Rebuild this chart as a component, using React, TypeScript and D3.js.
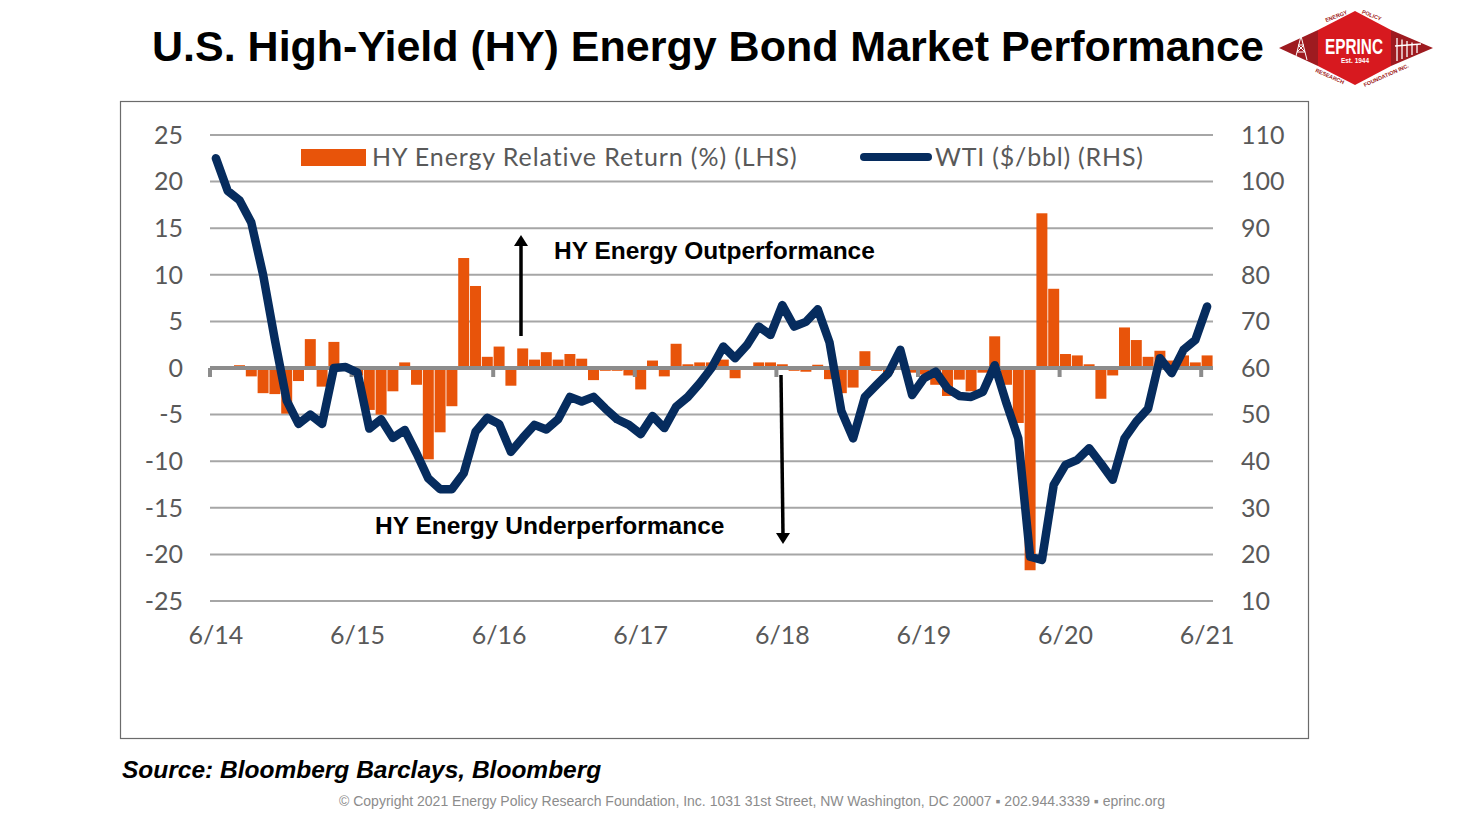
import React from "react";
import * as d3 from "d3";

// ---------- DATA ----------
const startMonth = new Date(2014, 5, 1);
const endMonth = new Date(2021, 6, 1);
const months = d3.timeMonth.range(startMonth, endMonth); // 85 months, 6/14 .. 6/21

const xTickLabels = ["6/14", "6/15", "6/16", "6/17", "6/18", "6/19", "6/20", "6/21"];
const leftTicks = [25, 20, 15, 10, 5, 0, -5, -10, -15, -20, -25];
const rightTicks = [110, 100, 90, 80, 70, 60, 50, 40, 30, 20, 10];

// HY Energy relative return (%) (LHS), monthly
const hyRelReturn = [
  0.1, 0.0, 0.3, -0.9, -2.7, -2.8, -4.9, -1.4, 3.1, -2.0, 2.8, 0.2,
  -0.8, -4.5, -5.0, -2.5, 0.6, -1.8, -9.8, -6.9, -4.1, 11.8, 8.8, 1.2,
  2.3, -1.9, 2.1, 0.9, 1.7, 0.9, 1.5, 1.0, -1.3, -0.3, -0.3, -0.8,
  -2.3, 0.8, -0.9, 2.6, 0.4, 0.6, 0.6, 0.9, -1.1, 0.1, 0.6, 0.6,
  0.4, -0.3, -0.4, 0.35, -1.2, -2.7, -2.1, 1.8, -0.3, -0.5, -0.2, -0.5,
  -0.7, -1.8, -3.0, -1.25, -2.5, -0.5, 3.4, -1.8, -5.9, -21.7, 16.6, 8.5,
  1.5, 1.35, 0.4, -3.3, -0.8, 4.35, 3.0, 1.2, 1.85, 0.8, 1.35, 0.6,
  1.35,
];

// WTI ($/bbl) (RHS), monthly
const wti = [
  105, 98, 96, 91.2, 80, 66, 53, 48, 50, 48, 60, 60.2,
  59, 47, 49, 45, 46.7, 41.7, 36.3, 34, 34, 37.4, 46.3, 49.3,
  48, 42, 45, 47.8, 46.8, 49, 53.8, 52.8, 53.8, 51.3, 49, 47.8,
  45.8, 49.7, 47.1, 51.7, 53.8, 56.7, 60, 64.6, 62.1, 64.9, 68.9, 67.1,
  73.5, 68.9, 69.9, 72.6, 65.5, 50.8, 44.9, 53.8, 56.4, 58.9, 63.9, 54.2,
  57.8, 59.2, 55.6, 54, 53.8, 54.9, 60.6, 52.4, 44.9, 19.5, 18.8, 34.9,
  39.2, 40.3, 42.8, 39.5, 36, 44.9, 48.5, 51.3, 62.1, 58.9, 63.9, 66,
  73.2,
];

const seriesNames = ["HY Energy Relative Return (%) (LHS)", "WTI ($/bbl) (RHS)"];

// ---------- STYLE ----------
const ORANGE = "#E8540A";
const NAVY = "#062C5E";
const GRID = "#a6a6a6";
const AXIS = "#8c8c8c";
const LABEL = "#595959";
const LABEL_FONT = "Lato, 'Open Sans', sans-serif";
const ARIAL = "'Liberation Sans', Arial, sans-serif";

export default function App() {
  const W = 1473;
  const H = 825;
  const plotLeft = 210;
  const plotRight = 1213;
  const plotTop = 135;
  const plotBottom = 601;

  const idx = months.map((_, i) => i);
  const x = d3
    .scaleBand<number>()
    .domain(idx)
    .range([plotLeft, plotRight])
    .paddingInner(0.07)
    .paddingOuter(0.035);
  const step = x.step();
  const xCenter = (i: number) => (x(i) as number) + x.bandwidth() / 2;
  const xBoundary = (i: number) => plotLeft + step * i;

  const yL = d3.scaleLinear().domain([-25, 25]).range([plotBottom, plotTop]);
  const yR = d3.scaleLinear().domain([10, 110]).range([plotBottom, plotTop]);

  const line = d3
    .line<number>()
    .x((_, i) => xCenter(i))
    .y((d) => yR(d));

  const yearTickIdx = xTickLabels.map((_, j) => j * 12);

  // Logo anchor
  const lx = 1355;
  const ly = 48;

  return (
    <svg
      width={W}
      height={H}
      viewBox={`0 0 ${W} ${H}`}
      style={{ position: "absolute", left: 0, top: 0, display: "block", background: "#fff" }}
    >
      <rect x={0} y={0} width={W} height={H} fill="#fff" />

      {/* Title */}
      <text x={152} y={61} fontFamily={ARIAL} fontWeight={700} fontSize={43} fill="#000">
        U.S. High-Yield (HY) Energy Bond Market Performance
      </text>

      {/* Logo */}
      <g>
        <polygon
          points={`${lx - 76},${ly} ${lx - 37},${ly - 18} ${lx - 37},${ly + 18}`}
          fill="#9E1B20"
        />
        <polygon
          points={`${lx + 78},${ly} ${lx + 36},${ly - 18} ${lx + 36},${ly + 18}`}
          fill="#9E1B20"
        />
        <polygon
          points={`${lx - 37},${ly - 18} ${lx},${ly - 37} ${lx + 36},${ly - 18} ${lx + 36},${ly + 18} ${lx},${ly + 37} ${lx - 37},${ly + 18}`}
          fill="#D7191F"
        />
        <g stroke="#fff" strokeWidth={1} fill="none">
          <path d={`M${lx - 60},${ly + 12} L${lx - 54},${ly - 12} L${lx - 48},${ly + 12}`} />
          <path d={`M${lx - 58},${ly + 4} L${lx - 50},${ly + 4} M${lx - 57},${ly - 3} L${lx - 51},${ly - 3}`} />
          <path d={`M${lx - 58},${ly + 4} L${lx - 51},${ly - 3} M${lx - 50},${ly + 4} L${lx - 57},${ly - 3}`} />
        </g>
        <g stroke="#fff" strokeWidth={1.3} fill="none">
          {[0, 5, 10, 15, 20].map((d, i) => (
            <line key={i} x1={lx + 42 + d} x2={lx + 42 + d} y1={ly - 10 + i * 1.5} y2={ly + 13 - i * 2} />
          ))}
          <path d={`M${lx + 40},${ly - 2} L${lx + 66},${ly - 4}`} />
        </g>
        <text
          x={lx - 1}
          y={ly + 6}
          textAnchor="middle"
          fontFamily="'Liberation Sans Narrow', 'Liberation Sans', Arial, sans-serif"
          fontWeight={700}
          fontSize={22}
          fill="#fff"
          textLength={58}
          lengthAdjust="spacingAndGlyphs"
        >
          EPRINC
        </text>
        <text x={lx} y={ly + 15} textAnchor="middle" fontFamily={ARIAL} fontWeight={700} fontSize={6.5} fill="#fff">
          Est. 1944
        </text>
        <text x={lx - 18} y={ly - 30} textAnchor="middle" fontFamily={ARIAL} fontWeight={700} fontSize={5.5}
          fill="#9E1B20" transform={`rotate(-22 ${lx - 18} ${ly - 30})`}>
          ENERGY
        </text>
        <text x={lx + 16} y={ly - 31} textAnchor="middle" fontFamily={ARIAL} fontWeight={700} fontSize={5.5}
          fill="#9E1B20" transform={`rotate(22 ${lx + 16} ${ly - 31})`}>
          POLICY
        </text>
        <text x={lx - 26} y={ly + 30} textAnchor="middle" fontFamily={ARIAL} fontWeight={700} fontSize={5.5}
          fill="#9E1B20" transform={`rotate(24 ${lx - 26} ${ly + 30})`}>
          RESEARCH
        </text>
        <text x={lx + 32} y={ly + 29} textAnchor="middle" fontFamily={ARIAL} fontWeight={700} fontSize={5.5}
          fill="#9E1B20" transform={`rotate(-24 ${lx + 32} ${ly + 29})`}>
          FOUNDATION INC.
        </text>
      </g>

      {/* Chart frame */}
      <rect x={120.5} y={101.5} width={1188} height={637} fill="none" stroke="#6b6b6b" strokeWidth={1.2} />

      {/* Grid lines */}
      {leftTicks
        .filter((t) => t !== 0)
        .map((t) => (
          <line key={`g${t}`} x1={plotLeft} x2={plotRight} y1={yL(t)} y2={yL(t)} stroke={GRID} strokeWidth={2} />
        ))}

      {/* Left tick labels */}
      {leftTicks.map((t) => (
        <text key={`l${t}`} x={183} y={yL(t)} dy="0.35em" textAnchor="end"
          fontFamily={LABEL_FONT} fontSize={25} fill={LABEL}>
          {t}
        </text>
      ))}

      {/* Right tick labels */}
      {rightTicks.map((t) => (
        <text key={`r${t}`} x={1241} y={yR(t)} dy="0.35em" textAnchor="start"
          fontFamily={LABEL_FONT} fontSize={25} fill={LABEL}>
          {t}
        </text>
      ))}

      {/* Bars */}
      {hyRelReturn.map((v, i) => (
        <rect
          key={`b${i}`}
          x={x(i)}
          width={x.bandwidth()}
          y={Math.min(yL(v), yL(0))}
          height={Math.abs(yL(v) - yL(0))}
          fill={ORANGE}
        />
      ))}

      {/* Zero axis line + ticks */}
      <line x1={plotLeft} x2={plotRight} y1={yL(0)} y2={yL(0)} stroke={AXIS} strokeWidth={4} />
      {yearTickIdx.map((k) => (
        <line key={`t${k}`} x1={xBoundary(k)} x2={xBoundary(k)} y1={yL(0)} y2={yL(0) + 9}
          stroke={AXIS} strokeWidth={4} />
      ))}

      {/* X labels */}
      {yearTickIdx.map((k, j) => (
        <text key={`x${k}`} x={xCenter(k)} y={644} textAnchor="middle"
          fontFamily={LABEL_FONT} fontSize={25} fill={LABEL}>
          {xTickLabels[j]}
        </text>
      ))}

      {/* WTI line */}
      <path
        d={line(wti) || ""}
        fill="none"
        stroke={NAVY}
        strokeWidth={8.5}
        strokeLinejoin="round"
        strokeLinecap="round"
      />

      {/* Legend */}
      <rect x={301} y={149} width={65} height={17} fill={ORANGE} />
      <text x={372} y={166} fontFamily={LABEL_FONT} fontSize={25} letterSpacing={0.9} fill={LABEL}>
        {seriesNames[0]}
      </text>
      <line x1={864} x2={928} y1={157} y2={157} stroke={NAVY} strokeWidth={8} strokeLinecap="round" />
      <text x={935} y={166} fontFamily={LABEL_FONT} fontSize={25} letterSpacing={0.8} fill={LABEL}>
        {seriesNames[1]}
      </text>

      {/* Annotations */}
      <line x1={521} x2={521} y1={336} y2={244} stroke="#000" strokeWidth={3.5} />
      <polygon points="521,235 514,246 528,246" fill="#000" />
      <text x={554} y={259} fontFamily={ARIAL} fontWeight={700} fontSize={24.5} fill="#000">
        HY Energy Outperformance
      </text>

      <line x1={781} x2={783} y1={375} y2={535} stroke="#000" strokeWidth={3.5} />
      <polygon points="783,544 776,533 790,533" fill="#000" />
      <text x={375} y={534} fontFamily={ARIAL} fontWeight={700} fontSize={24.5} fill="#000">
        HY Energy Underperformance
      </text>

      {/* Source */}
      <text x={122} y={778} fontFamily={ARIAL} fontWeight={700} fontStyle="italic" fontSize={24.5} fill="#000">
        Source: Bloomberg Barclays, Bloomberg
      </text>

      {/* Copyright */}
      <text x={752} y={806} textAnchor="middle" fontFamily={ARIAL} fontSize={14} fill="#8c8c8c">
        © Copyright 2021 Energy Policy Research Foundation, Inc. 1031 31st Street, NW Washington, DC 20007 ▪ 202.944.3339 ▪ eprinc.org
      </text>
    </svg>
  );
}
